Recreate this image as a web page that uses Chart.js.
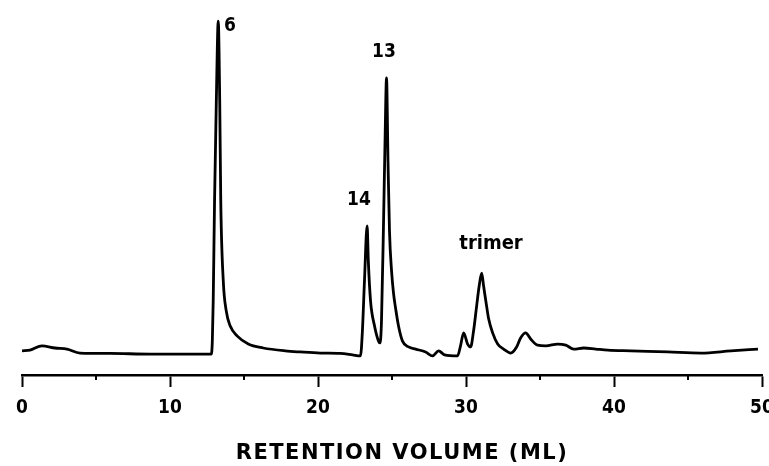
<!DOCTYPE html>
<html>
<head>
<meta charset="utf-8">
<script src="https://cdn.jsdelivr.net/npm/chart.js@4/dist/chart.umd.min.js"></script>
<style>
html,body{margin:0;padding:0;background:#fff;}
#wrap{width:769px;height:466px;position:relative;}
</style>
</head>
<body>
<div id="wrap"><canvas id="c" width="769" height="466"></canvas></div>
<script>
// Retention volume (mL)
const volume = [0.0,0.54,1.35,2.23,3.04,3.92,5.95,8.66,10.69,12.79,12.86,12.92,13.01,13.13,13.26,13.36,13.43,13.6,13.8,14.07,14.55,15.29,16.3,17.79,18.81,20.16,21.5,22.33,22.87,23.0,23.14,23.32,23.4,23.55,23.82,24.09,24.19,24.29,24.43,24.53,24.63,24.73,24.83,24.97,25.1,25.24,25.44,25.71,26.12,26.6,27.27,27.74,28.15,28.55,29.43,29.63,29.84,30.11,30.31,30.51,30.72,30.89,31.06,31.19,31.39,31.53,31.8,32.14,32.54,33.02,33.42,33.69,34.03,34.37,34.84,35.39,36.2,36.74,37.28,37.96,38.77,39.58,41.14,43.64,45.87,47.9,49.73];
// Detector response (arbitrary units)
const response = [6.7,6.9,8.1,7.5,7.2,6.1,6.0,5.8,5.8,5.8,9.4,20.6,48.3,76.1,98.3,76.1,48.3,26.1,17.8,13.6,10.8,8.6,7.5,6.7,6.4,6.1,6.0,5.6,5.3,12.2,26.1,41.4,31.7,20.6,13.6,9.4,8.9,15.0,42.8,65.0,82.5,59.4,40.0,28.9,22.8,18.6,13.6,9.4,7.8,7.2,6.4,5.3,6.7,5.6,5.3,8.1,11.7,8.6,7.8,12.2,19.2,24.7,28.3,24.7,19.2,15.6,11.7,8.6,7.2,6.1,7.8,10.3,11.7,10.0,8.3,8.1,8.6,8.3,7.2,7.5,7.2,6.9,6.7,6.4,6.1,6.7,7.2];
// Peak labels
const peakNames = ['6','13','14','trimer'];
const peakLabelX = [14.05,24.46,22.77,31.69];
const peakLabelY = [96.8,89.6,48.6,36.4];
const majorTicks = [0,10,20,30,40,50];
const minorTicks = [5,15,25,35,45];
const axisTitle = 'RETENTION VOLUME (ML)';

const FONT = "'DejaVu Sans Condensed', 'DejaVu Sans', sans-serif";
const FONT2 = "'DejaVu Sans', sans-serif";

const points = volume.map((v,i)=>({x:v,y:response[i]}));

const extras = {
  id:'extras',
  afterDatasetsDraw(chart){
    const ctx = chart.ctx, xs = chart.scales.x, ys = chart.scales.y;
    ctx.save();
    ctx.fillStyle = '#000';
    ctx.textAlign = 'center';
    ctx.textBaseline = 'middle';
    peakNames.forEach((n,i)=>{
      ctx.font = (n.length > 2 ? "bold 20px " : "bold 19px ") + FONT;
      ctx.fillText(n, xs.getPixelForValue(peakLabelX[i]), ys.getPixelForValue(peakLabelY[i]));
    });
    // minor ticks
    ctx.strokeStyle = '#000';
    ctx.lineWidth = 2;
    const by = xs.top;
    minorTicks.forEach(t=>{
      const px = xs.getPixelForValue(t);
      ctx.beginPath(); ctx.moveTo(px, by); ctx.lineTo(px, by+5); ctx.stroke();
    });
    // axis title
    ctx.font = "bold 21px " + FONT2;
    try { ctx.letterSpacing = '1.5px'; } catch(e) {}
    ctx.fillText(axisTitle, (xs.left + xs.right)/2 + 10, 454);
    ctx.restore();
  }
};

new Chart(document.getElementById('c'), {
  type:'line',
  data:{datasets:[{data:points, borderColor:'#000', borderWidth:2.8, pointRadius:0, cubicInterpolationMode:'monotone', fill:false}]},
  options:{
    responsive:false, animation:false,
    layout:{padding:{left:22,right:7,top:15,bottom:0}},
    plugins:{legend:{display:false}, tooltip:{enabled:false}},
    scales:{
      x:{type:'linear', min:0, max:50,
        afterBuildTicks(s){ s.ticks = majorTicks.map(v=>({value:v})); },
        afterFit(s){ s.paddingLeft = 0; s.paddingRight = 0; s.height = 91; },
        grid:{display:true, drawOnChartArea:false, drawTicks:true, tickLength:12, tickWidth:2, tickColor:'#000'},
        border:{display:true, color:'#000', width:2.5},
        ticks:{color:'#000', font:{family:FONT, size:19, weight:'bold'}, padding:10, maxRotation:0, autoSkip:false}
      },
      y:{display:false, min:0, max:100}
    }
  },
  plugins:[extras]
});
</script>
</body>
</html>
